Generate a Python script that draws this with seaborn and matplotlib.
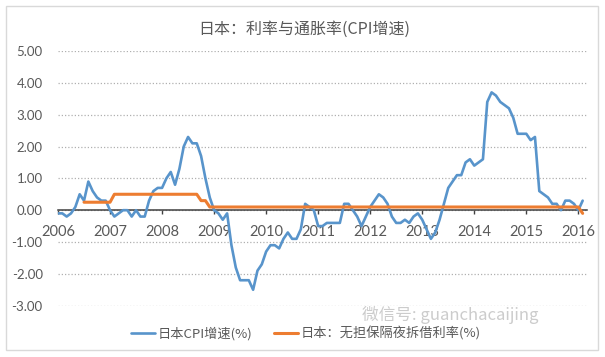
import numpy as np
import pandas as pd
import seaborn as sns
import matplotlib
matplotlib.use("Agg")
import matplotlib.pyplot as plt
from matplotlib.patches import Rectangle

nan = np.nan

# ---- data -------------------------------------------------------------
year_labels = ["2006", "2007", "2008", "2009", "2010", "2011",
               "2012", "2013", "2014", "2015", "2016"]

cpi_2006 = [-0.1, -0.1, -0.2, -0.1, 0.1, 0.5, 0.3, 0.9, 0.6, 0.4, 0.3, 0.3]
cpi_2007 = [0.0, -0.2, -0.1, 0.0, 0.0, -0.2, 0.0, -0.2, -0.2, 0.3, 0.6, 0.7]
cpi_2008 = [0.7, 1.0, 1.2, 0.8, 1.3, 2.0, 2.3, 2.1, 2.1, 1.7, 1.0, 0.4]
cpi_2009 = [0.0, -0.1, -0.3, -0.1, -1.1, -1.8, -2.2, -2.2, -2.2, -2.5, -1.9, -1.7]
cpi_2010 = [-1.3, -1.1, -1.1, -1.2, -0.9, -0.7, -0.9, -0.9, -0.6, 0.2, 0.1, 0.0]
cpi_2011 = [-0.5, -0.5, -0.4, -0.4, -0.4, -0.4, 0.2, 0.2, 0.0, -0.2, -0.5, -0.2]
cpi_2012 = [0.1, 0.3, 0.5, 0.4, 0.2, -0.2, -0.4, -0.4, -0.3, -0.4, -0.2, -0.1]
cpi_2013 = [-0.3, -0.6, -0.9, -0.7, -0.3, 0.2, 0.7, 0.9, 1.1, 1.1, 1.5, 1.6]
cpi_2014 = [1.4, 1.5, 1.6, 3.4, 3.7, 3.6, 3.4, 3.3, 3.2, 2.9, 2.4, 2.4]
cpi_2015 = [2.4, 2.2, 2.3, 0.6, 0.5, 0.4, 0.2, 0.2, 0.0, 0.3, 0.3, 0.2]
cpi_2016 = [0.0, 0.3]

rate_2006 = [nan, nan, nan, nan, nan, nan, 0.25, 0.25, 0.25, 0.25, 0.25, 0.25]
rate_2007 = [0.25, 0.5, 0.5, 0.5, 0.5, 0.5, 0.5, 0.5, 0.5, 0.5, 0.5, 0.5]
rate_2008 = [0.5, 0.5, 0.5, 0.5, 0.5, 0.5, 0.5, 0.5, 0.5, 0.3, 0.3, 0.1]
rate_2009 = [0.1, 0.1, 0.1, 0.1, 0.1, 0.1, 0.1, 0.1, 0.1, 0.1, 0.1, 0.1]
rate_2010 = [0.1, 0.1, 0.1, 0.1, 0.1, 0.1, 0.1, 0.1, 0.1, 0.1, 0.1, 0.1]
rate_2011 = [0.1, 0.1, 0.1, 0.1, 0.1, 0.1, 0.1, 0.1, 0.1, 0.1, 0.1, 0.1]
rate_2012 = [0.1, 0.1, 0.1, 0.1, 0.1, 0.1, 0.1, 0.1, 0.1, 0.1, 0.1, 0.1]
rate_2013 = [0.1, 0.1, 0.1, 0.1, 0.1, 0.1, 0.1, 0.1, 0.1, 0.1, 0.1, 0.1]
rate_2014 = [0.1, 0.1, 0.1, 0.1, 0.1, 0.1, 0.1, 0.1, 0.1, 0.1, 0.1, 0.1]
rate_2015 = [0.1, 0.1, 0.1, 0.1, 0.1, 0.1, 0.1, 0.1, 0.1, 0.1, 0.1, 0.1]
rate_2016 = [0.1, -0.1]

y_ticks = [-3, -2, -1, 0, 1, 2, 3, 4, 5]

title_text = "日本：利率与通胀率(CPI增速)"
label_cpi = "日本CPI增速(%)"
label_rate = "日本：无担保隔夜拆借利率(%)"
watermark = "微信号: guanchacaijing"

cpi = (cpi_2006 + cpi_2007 + cpi_2008 + cpi_2009 + cpi_2010 + cpi_2011 +
       cpi_2012 + cpi_2013 + cpi_2014 + cpi_2015 + cpi_2016)
rate = (rate_2006 + rate_2007 + rate_2008 + rate_2009 + rate_2010 + rate_2011 +
        rate_2012 + rate_2013 + rate_2014 + rate_2015 + rate_2016)

df = pd.DataFrame({"month": np.arange(len(cpi)), "cpi": cpi, "rate": rate})

# ---- style ------------------------------------------------------------
sns.set_theme(style="white")
plt.rcParams["font.family"] = ["Lato", "DejaVu Sans"]
cjk = ["Noto Sans CJK SC", "DejaVu Sans"]
text_color = "#595959"
blue = "#5894cb"
orange = "#ED7D31"

fig = plt.figure(figsize=(6.05, 3.57), dpi=100)
fig.patch.set_facecolor("white")
ax = fig.add_axes([58 / 605, 1 - 305.7 / 357, (587 - 58) / 605, (305.7 - 51) / 357])
ax.set_facecolor("white")

sns.lineplot(data=df, x="month", y="cpi", ax=ax, color=blue, linewidth=1.9,
             label=label_cpi)
sns.lineplot(data=df, x="month", y="rate", ax=ax, color=orange, linewidth=2.2,
             label=label_rate)

ax.set_xlim(0, 122)
ax.set_ylim(-3, 5)
ax.set_yticks(y_ticks)
ax.set_yticklabels([f"{v:.2f}" for v in y_ticks])
ax.set_xticks(np.arange(0, len(year_labels) * 12, 12))
ax.set_xticklabels(year_labels)
ax.set_xlabel("")
ax.set_ylabel("")

ax.yaxis.grid(True, color="#b0b0b0", linestyle=(0, (1, 1.6)), linewidth=0.9)
ax.xaxis.grid(False)
ax.set_axisbelow(True)

for s in ["top", "right", "left"]:
    ax.spines[s].set_visible(False)
ax.spines["bottom"].set_position(("data", 0))
ax.spines["bottom"].set_color("#404040")
ax.spines["bottom"].set_linewidth(1.1)
ax.spines["bottom"].set_zorder(1.5)

ax.tick_params(axis="x", direction="out", length=3.2, width=1.0, color="#404040",
               pad=7.5, labelsize=10.5, labelcolor=text_color, bottom=True)
ax.tick_params(axis="y", length=0, pad=11, labelsize=9.5, labelcolor=text_color, left=True)

# legend at the bottom
handles, labels = ax.get_legend_handles_labels()
ax.get_legend().remove()
fig.legend(handles, labels, loc="center", ncol=2,
           bbox_to_anchor=(306 / 605, 1 - 334 / 357), frameon=False,
           prop={"family": cjk, "size": 9.5}, labelcolor=text_color,
           handlelength=1.8, handletextpad=0.25, columnspacing=1.6,
           borderpad=0.2)

fig.text(304 / 605, 1 - 29 / 357, title_text, ha="center", va="center",
         fontsize=11.5, color=text_color, family=cjk)

# faint watermark (kept just above the legend)
fig.text(362 / 605, 1 - 315 / 357, watermark, ha="left", va="center",
         fontsize=12, color="#cccccc", family=cjk, fontweight="light", zorder=0)

# chart frame
fig.patches.append(Rectangle((6 / 605, 1 - 350 / 357), 592 / 605, 344 / 357,
                             transform=fig.transFigure, fill=False,
                             edgecolor="#d9d9d9", linewidth=1.0))

fig.savefig("out.png", dpi=100, facecolor="white")
